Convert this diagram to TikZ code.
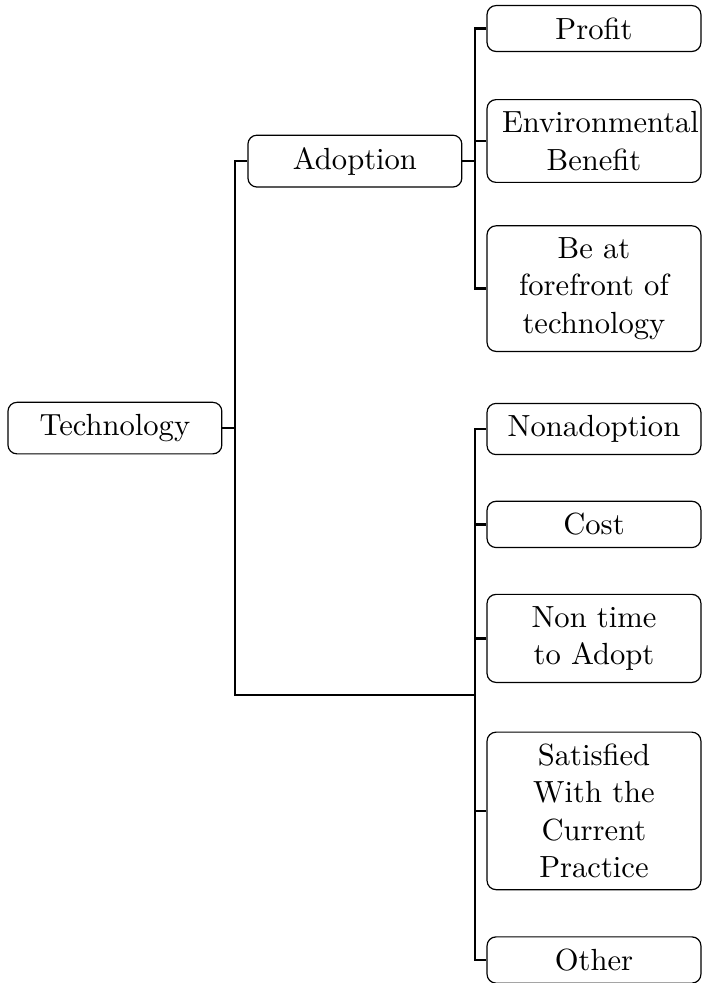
\documentclass[tikz,border=0pt]{standalone}
\tikzset{
  box/.style={draw, rounded corners=3pt, text width=61.3pt, align=center,
    inner xsep=5pt, inner ysep=4pt, font=\fontsize{10.2pt}{12.4pt}\selectfont},
  link/.style={thick}
}
\begin{document}
\begin{tikzpicture}
  \useasboundingbox (0,0) rectangle (234pt,-327.67pt);
  \node[box] (tech) at (38.3pt,-142.7pt) {Technology};
  \node[box] (adopt) at (118.3pt,-53.7pt) {Adoption};
  \node[box] (profit) at (198pt,-9.5pt) {Profit};
  \node[box] (env) at (198pt,-47pt) {Environmental Benefit};
  \node[box] (forefront) at (198pt,-96.2pt) {Be at forefront of technology};
  \node[box] (nonadopt) at (198pt,-143pt) {Nonadoption};
  \node[box] (cost) at (198pt,-174.8pt) {Cost};
  \node[box] (notime) at (198pt,-212.8pt) {Non time to Adopt};
  \node[box] (satisfied) at (198pt,-270.3pt) {Satisfied With the Current Practice};
  \node[box] (other) at (198pt,-320pt) {Other};
  \coordinate (nonroot) at (158.3pt,-231.7pt);

  \draw[link] (tech.east) -- ++(4.2pt,0) coordinate (t-hub);
  \draw[link] (t-hub) |- (adopt.west);
  \draw[link] (t-hub) |- (nonroot);
  \draw[link] (adopt.east) -- ++(4.2pt,0) coordinate (a-hub);
  \foreach \n in {profit,env,forefront}
    \draw[link] (a-hub) |- (\n.west);
  \foreach \n in {nonadopt,cost,notime,satisfied,other}
    \draw[link] (nonroot) |- (\n.west);
\end{tikzpicture}
\end{document}
